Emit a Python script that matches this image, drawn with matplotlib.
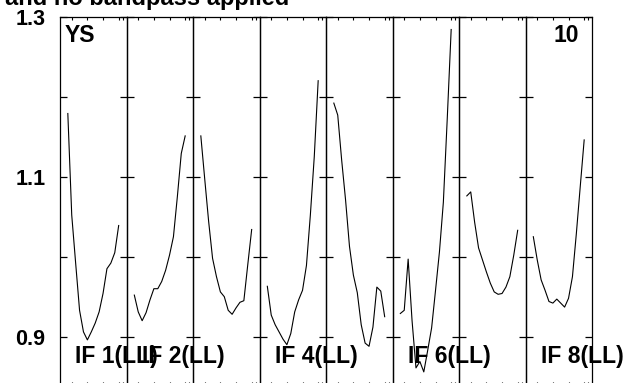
import numpy as np
import matplotlib.pyplot as plt

plt.rcParams['font.family'] = ['Liberation Sans', 'DejaVu Sans']
plt.rcParams['font.weight'] = 'bold'

# channels 2..15 of each IF (panel spans 0..17)
channels = np.arange(2, 16)

if1 = [1.179, 1.052, 0.992, 0.933, 0.906, 0.896, 0.906, 0.917, 0.931, 0.954, 0.985, 0.992, 1.005, 1.039]
if2 = [0.952, 0.931, 0.920, 0.930, 0.946, 0.960, 0.960, 0.969, 0.983, 1.002, 1.025, 1.075, 1.129, 1.151]
if3 = [1.151, 1.097, 1.044, 0.998, 0.975, 0.956, 0.950, 0.933, 0.928, 0.936, 0.943, 0.945, 0.990, 1.034]
if4 = [0.963, 0.927, 0.915, 0.906, 0.897, 0.890, 0.904, 0.931, 0.946, 0.958, 0.989, 1.052, 1.125, 1.220]
if5 = [1.192, 1.177, 1.121, 1.071, 1.013, 0.977, 0.955, 0.915, 0.892, 0.888, 0.912, 0.962, 0.957, 0.925]
if6 = [0.929, 0.933, 0.997, 0.920, 0.861, 0.869, 0.856, 0.883, 0.911, 0.958, 1.006, 1.068, 1.173, 1.284]
if7 = [1.076, 1.081, 1.043, 1.011, 0.996, 0.981, 0.967, 0.956, 0.953, 0.954, 0.962, 0.975, 1.002, 1.033]
if8 = [1.025, 0.996, 0.971, 0.958, 0.944, 0.942, 0.947, 0.942, 0.937, 0.948, 0.975, 1.029, 1.088, 1.146]
spectra = [if1, if2, if3, if4, if5, if6, if7, if8]

label_panels = [0, 1, 3, 5, 7]
label_text = ["IF 1(LL)", "IF 2(LL)", "IF 4(LL)", "IF 6(LL)", "IF 8(LL)"]

yticks = [0.9, 1.0, 1.1, 1.2, 1.3]
yticklabels = ["0.9", "", "1.1", "", "1.3"]
xticks = [3, 7, 11, 15, 16]

W, H = 629, 383
fig = plt.figure(figsize=(W / 100, H / 100), dpi=100)

left = 60
pw = 66.5
top = 16.7
ph = 368.0

for i, spec in enumerate(spectra):
    ax = fig.add_axes([(left + i * pw) / W, (H - top - ph) / H, pw / W, ph / H])
    ax.patch.set_visible(False)
    ax.plot(channels, spec, color='black', lw=0.8)
    ax.set_xlim(0, 17)
    ax.set_ylim(0.84, 1.3)
    ax.set_xticks(xticks)
    ax.set_yticks(yticks)
    ax.tick_params(axis='x', direction='in', top=True, bottom=True, length=2.5, width=0.8,
                   labelbottom=False)
    ax.tick_params(axis='y', direction='in', left=True, right=True, length=5, width=0.9,
                   labelsize=15.5, pad=10.5)
    if i == 0:
        ax.set_yticklabels(yticklabels)
        ax.text(1.3, 1.277, "YS", fontsize=16.5, weight='bold', va='center')
    else:
        ax.set_yticklabels([])
    if i == 7:
        ax.text(13.6, 1.277, "10", fontsize=16.5, weight='bold', va='center', ha='right')
    for s in ax.spines.values():
        s.set_linewidth(0.9)
    if i in label_panels:
        ax.text(3.85, 0.875, label_text[label_panels.index(i)], fontsize=16.5,
                weight='bold', va='center', ha='left', clip_on=False, zorder=5)

fig.text(5 / W, 1 - 5 / H, "and no bandpass applied", fontsize=17, weight='bold',
         va='baseline', ha='left')

plt.savefig("out.png", dpi=100)
